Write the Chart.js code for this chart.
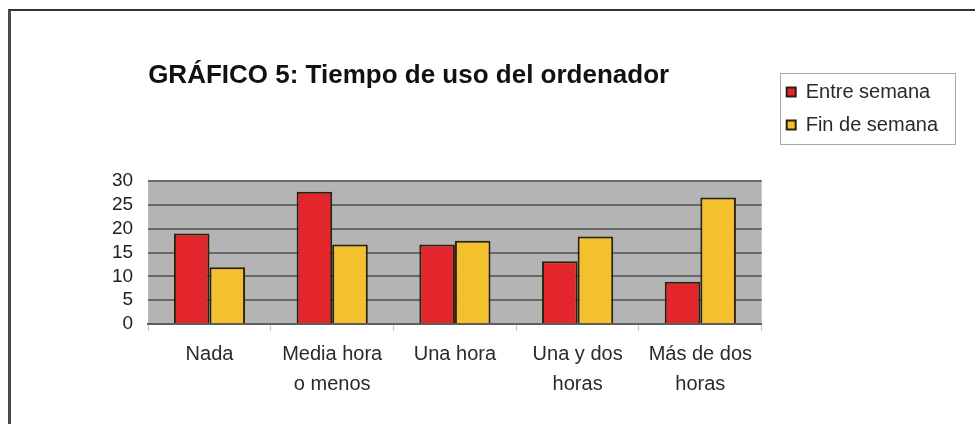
<!DOCTYPE html>
<html lang="es">
<head>
    <meta charset="UTF-8">
    <title>Tiempo de uso del ordenador</title>
    <script src="https://cdn.jsdelivr.net/npm/chart.js"></script>
    <style>
        html, body {
            margin: 0;
            padding: 0;
            background: #ffffff;
        }
        .frame {
            position: absolute;
            left: 8px;
            top: 9px;
            width: 975px;
            height: 424px;
            border-left: 3px solid #4a4a4a;
            border-top: 2px solid #333333;
        }
        .chart-box {
            position: absolute;
            left: 0;
            top: 0;
            width: 975px;
            height: 424px;
        }
    </style>
</head>
<body>
    <div class="frame"></div>
    <div class="chart-box">
        <canvas id="usoChart"></canvas>
    </div>

    <script>
        const categories = [['Nada'], ['Media hora', 'o menos'], ['Una hora'], ['Una y dos', 'horas'], ['Más de dos', 'horas']];
        const entreSemana = [19, 27.8, 16.7, 13.2, 8.9];
        const finDeSemana = [11.9, 16.7, 17.5, 18.4, 26.6];
        const yTicks = [0, 5, 10, 15, 20, 25, 30];

        const fontFamily = '"Liberation Sans", Arial, sans-serif';

        // grey plot background
        const plotBackground = {
            id: 'plotBackground',
            beforeDraw(chart) {
                const { ctx, chartArea } = chart;
                ctx.save();
                ctx.fillStyle = '#b4b4b4';
                ctx.fillRect(chartArea.left, chartArea.top, chartArea.right - chartArea.left, chartArea.bottom - chartArea.top);
                ctx.restore();
            }
        };

        // nudge the legend away from the plot, then box it in
        const legendFrame = {
            id: 'legendFrame',
            afterLayout(chart) {
                const lg = chart.legend;
                lg.left += 12;
                lg.right += 12;
                lg.top += 9;
                lg.bottom += 9;
            },
            afterDraw(chart) {
                const boxes = chart.legend.legendHitBoxes;
                if (!boxes || !boxes.length) return;
                const first = boxes[0];
                const last = boxes[boxes.length - 1];
                const x = first.left - 7;
                const y = first.top - 9;
                const ctx = chart.ctx;
                ctx.save();
                ctx.strokeStyle = '#a8a8a8';
                ctx.lineWidth = 1;
                ctx.strokeRect(Math.round(x) + 0.5, Math.round(y) + 0.5, 175, Math.round(last.top + last.height + 9 - y));
                ctx.restore();
            }
        };

        new Chart(document.getElementById('usoChart'), {
            type: 'bar',
            data: {
                labels: categories,
                datasets: [
                    {
                        label: 'Entre semana',
                        data: entreSemana,
                        backgroundColor: '#e2262b',
                        borderColor: '#2b200c',
                        borderWidth: 2,
                        borderSkipped: 'bottom'
                    },
                    {
                        label: 'Fin de semana',
                        data: finDeSemana,
                        backgroundColor: '#f4c02e',
                        borderColor: '#2b200c',
                        borderWidth: 2,
                        borderSkipped: 'bottom'
                    }
                ]
            },
            options: {
                responsive: true,
                maintainAspectRatio: false,
                animation: false,
                layout: {
                    padding: { left: 97, right: 39, top: 60, bottom: 17 }
                },
                datasets: {
                    bar: {
                        categoryPercentage: 0.58,
                        barPercentage: 1.0
                    }
                },
                scales: {
                    x: {
                        grid: {
                            display: true,
                            drawOnChartArea: false,
                            color: '#c8c8c8',
                            tickLength: 7,
                            offset: true
                        },
                        border: { display: true, color: '#5e5e5e', width: 2 },
                        ticks: {
                            color: '#2a2a2a',
                            padding: 8,
                            maxRotation: 0,
                            autoSkip: false,
                            font: { family: fontFamily, size: 20, lineHeight: 1.5 }
                        }
                    },
                    y: {
                        min: 0,
                        max: 30,
                        afterBuildTicks(axis) {
                            axis.ticks = yTicks.map(v => ({ value: v }));
                        },
                        grid: {
                            color: '#686868',
                            lineWidth: 2,
                            drawTicks: false
                        },
                        border: { display: false },
                        ticks: {
                            color: '#222222',
                            padding: 15,
                            autoSkip: false,
                            font: { family: fontFamily, size: 19 }
                        }
                    }
                },
                plugins: {
                    title: {
                        display: true,
                        fullSize: false,
                        text: 'GRÁFICO 5: Tiempo de uso del ordenador',
                        align: 'start',
                        color: '#111111',
                        font: { family: fontFamily, size: 26, weight: 'bold', lineHeight: 1.2 },
                        padding: { top: 0, bottom: 90 }
                    },
                    legend: {
                        position: 'right',
                        align: 'start',
                        labels: {
                            color: '#2a2a2a',
                            boxWidth: 9,
                            boxHeight: 9,
                            padding: 13,
                            font: { family: fontFamily, size: 20 }
                        }
                    },
                    tooltip: { enabled: false }
                }
            },
            plugins: [plotBackground, legendFrame]
        });
    </script>
</body>
</html>
